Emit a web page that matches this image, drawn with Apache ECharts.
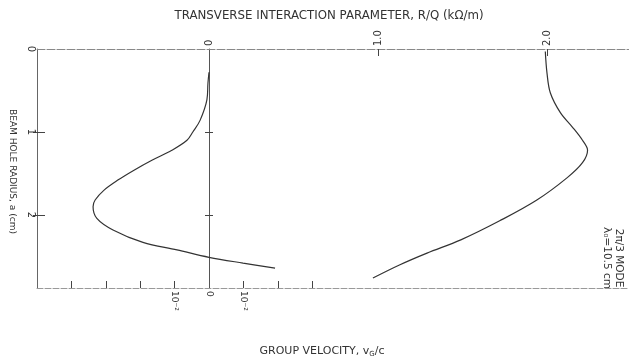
<!DOCTYPE html>
<html>
<head>
<meta charset="utf-8">
<script src="https://cdn.jsdelivr.net/npm/echarts@6/dist/echarts.min.js"></script>
<style>html,body{margin:0;padding:0;background:#fff}#c{width:629px;height:358px}</style>
</head>
<body>
<div id="c"></div>
<script>
// Beam hole radius a (cm) for each curve
var radiusVg = [0.28, 0.41, 0.61, 0.86, 1.0, 1.10, 1.22, 1.34, 1.46, 1.58, 1.70, 1.82, 1.90, 2.04, 2.18, 2.33, 2.42, 2.51, 2.58, 2.64];
// Group velocity vg/c
var groupVelocity = [0, -0.0003, -0.0006, -0.0026, -0.0047, -0.0064, -0.0108, -0.0166, -0.0218, -0.0265, -0.0305, -0.0331, -0.0337, -0.0326, -0.0279, -0.0192, -0.0093, 0, 0.0099, 0.0192];
var radiusRQ = [0.03, 0.29, 0.53, 0.77, 0.94, 1.10, 1.22, 1.37, 1.55, 1.82, 2.07, 2.30, 2.46, 2.60, 2.76];
// Transverse interaction parameter R/Q (kOhm/m)
var rOverQ = [1.99, 2.0, 2.02, 2.08, 2.15, 2.21, 2.24, 2.21, 2.12, 1.94, 1.72, 1.49, 1.29, 1.13, 0.97];

// tick labels
var rqLabelValues = [0, 1, 2];
var rqLabelTexts = ['0', '1.0', '2.0'];
var rqTickValues = [1, 2];
var vgLabelValues = [-0.01, 0, 0.01];
var vgLabelTexts = ['10\u207B\u00B2', '0', '10\u207B\u00B2'];
var vgTickValues = [-0.04, -0.03, -0.02, -0.01, 0.01, 0.02, 0.03];
var radiusLabelValues = [0, 1, 2];
var radiusLabelTexts = ['0', '1', '2'];
var radiusTickValues = [1, 2];

var FONT = 'DejaVu Sans';
var TXT = '#333';
var LINE = '#666';

function pickLabel(values, texts) {
  return function (v) {
    for (var i = 0; i < values.length; i++) if (Math.abs(values[i] - v) < 1e-9) return texts[i];
    return '';
  };
}

var chart = echarts.init(document.getElementById('c'));
var yBase = { type: 'value', inverse: true, min: 0, max: 2.88, splitLine: { show: false } };
chart.setOption({
  animation: false,
  grid: { left: 37, right: 0, top: 49, bottom: 70, outerBoundsMode: 'none', containLabel: false },
  xAxis: [
    {
      type: 'value', position: 'top', min: -172 / 169, max: 420 / 169,
      splitLine: { show: false },
      axisLine: { onZero: false, lineStyle: { color: '#888', width: 1, type: [8, 2] } },
      axisTick: { customValues: rqTickValues, inside: true, length: 7, lineStyle: { color: '#444' } },
      axisLabel: { customValues: rqLabelValues, rotate: -90, margin: 3, color: TXT, fontFamily: FONT, fontSize: 10, formatter: pickLabel(rqLabelValues, rqLabelTexts) },
      name: 'TRANSVERSE INTERACTION PARAMETER, R/Q (k\u03A9/m)',
      nameLocation: 'middle', nameGap: 25,
      nameTextStyle: { color: TXT, fontFamily: FONT, fontSize: 11.8, padding: [0, 8, 0, 0] }
    },
    {
      type: 'value', position: 'bottom', min: -0.05, max: 0.05 * 420 / 172,
      splitLine: { show: false },
      axisLine: { onZero: false, lineStyle: { color: '#999', width: 1, type: [6, 2] } },
      axisTick: { customValues: vgTickValues, inside: true, length: 7, lineStyle: { color: '#444' } },
      axisLabel: { customValues: vgLabelValues, rotate: -90, margin: 3, color: TXT, fontFamily: FONT, fontSize: 9, formatter: pickLabel(vgLabelValues, vgLabelTexts) },
      name: '{a|GROUP VELOCITY, v}{s|G}{a|/c}',
      nameLocation: 'middle', nameGap: 57,
      nameTextStyle: { padding: [0, 22, 0, 0], rich: { a: { color: TXT, fontFamily: FONT, fontSize: 11 }, s: { color: TXT, fontFamily: FONT, fontSize: 7, padding: [6, 0, 0, 0] } } }
    }
  ],
  yAxis: [
    Object.assign({}, yBase, {
      position: 'left',
      axisLine: { onZero: false, lineStyle: { color: LINE, width: 1 } },
      axisTick: { customValues: radiusTickValues, length: 4, lineStyle: { color: '#444' } },
      axisLabel: { customValues: radiusLabelValues, rotate: -90, margin: 1, color: TXT, fontFamily: FONT, fontSize: 10, formatter: pickLabel(radiusLabelValues, radiusLabelTexts) },
      name: 'BEAM HOLE RADIUS, a (cm)', nameLocation: 'middle', nameGap: 20, nameRotate: -90,
      nameTextStyle: { color: TXT, fontFamily: FONT, fontSize: 9, padding: [0, 0, 0, 6] }
    }),
    Object.assign({}, yBase, {
      position: 'left',
      axisLine: { show: false, onZero: false },
      axisTick: { customValues: radiusTickValues, inside: true, length: 8, lineStyle: { color: '#444' } },
      axisLabel: { show: false }
    }),
    Object.assign({}, yBase, {
      position: 'left',
      axisLine: { onZero: true, onZeroAxisIndex: 1, lineStyle: { color: '#555', width: 1 } },
      axisTick: { customValues: radiusTickValues, length: 4, lineStyle: { color: '#444' } },
      axisLabel: { show: false }
    }),
    Object.assign({}, yBase, {
      position: 'left',
      axisLine: { show: false, onZero: true, onZeroAxisIndex: 1 },
      axisTick: { customValues: radiusTickValues, inside: true, length: 4, lineStyle: { color: '#444' } },
      axisLabel: { show: false }
    })
  ],
  graphic: [{
    type: 'text', x: 613, y: 258, rotation: -Math.PI / 2,
    style: { text: '2\u03C0/3 MODE\n\u03BB\u2080=10.5 cm', fill: TXT, font: '10.5px "DejaVu Sans"', align: 'center', verticalAlign: 'middle', lineHeight: 12 }
  }],
  series: [
    {
      type: 'line', xAxisIndex: 1, yAxisIndex: 0, smooth: 0.35, symbol: 'none',
      lineStyle: { color: '#333', width: 1.2 },
      data: radiusVg.map(function (a, i) { return [groupVelocity[i], a]; })
    },
    {
      type: 'line', xAxisIndex: 0, yAxisIndex: 0, smooth: 0.35, symbol: 'none',
      lineStyle: { color: '#333', width: 1.2 },
      data: radiusRQ.map(function (a, i) { return [rOverQ[i], a]; })
    }
  ]
});
</script>
</body>
</html>
